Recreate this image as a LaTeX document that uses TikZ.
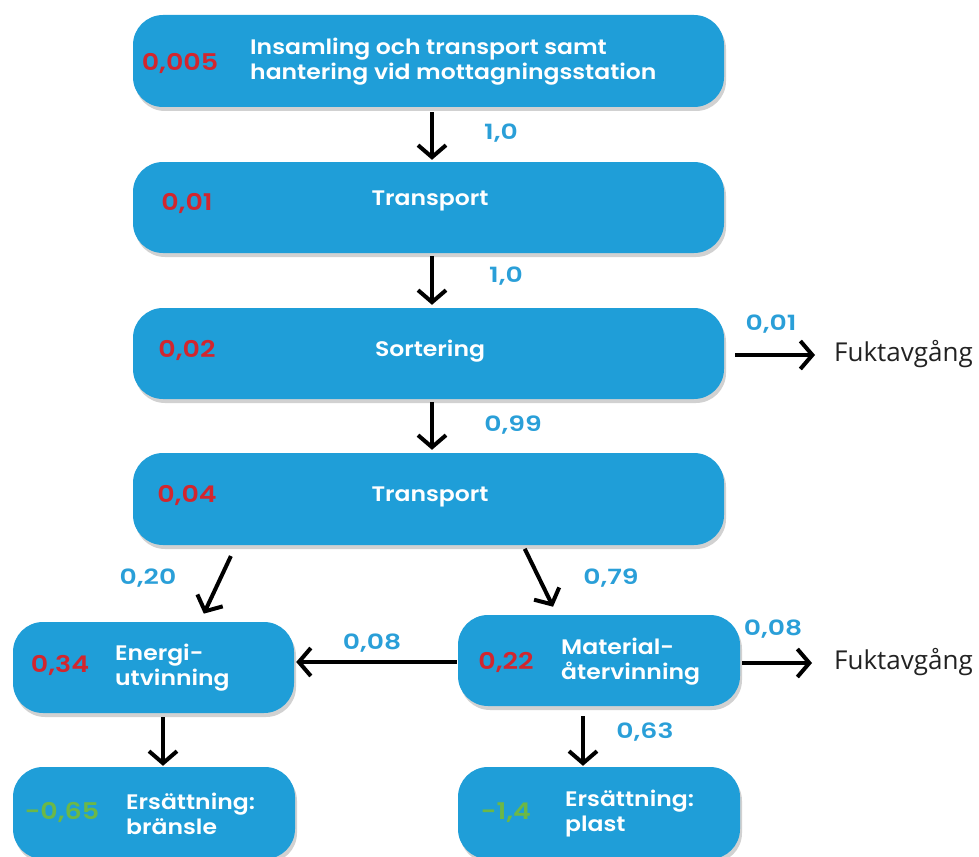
\documentclass[tikz,border=0pt]{standalone}
\usepackage{fontspec}
\newfontfamily\popbox{Poppins SemiBold}[FakeStretch=1.12]
\newfontfamily\popred{Poppins SemiBold}[FakeStretch=1.17, Numbers=Monospaced]
\newfontfamily\popflow{Poppins SemiBold}[FakeStretch=1.27, Numbers=Monospaced]
\newfontfamily\osans{Open Sans}
\usetikzlibrary{arrows.meta,shadows}
\definecolor{boxblue}{HTML}{1F9ED8}
\definecolor{numred}{HTML}{D2262E}
\definecolor{numgreen}{HTML}{6CB847}
\definecolor{lblblue}{HTML}{2A9FD8}
\definecolor{fukt}{HTML}{222222}
\tikzset{
  procbox/.style={rectangle, rounded corners=30pt, fill=boxblue, inner sep=0pt,
    drop shadow={shadow xshift=2pt, shadow yshift=-4pt, opacity=0.18, fill=black}},
  boxtxt/.style={text=white, font=\popbox\fontsize{21}{25}\selectfont, align=left, inner sep=0pt},
  rednum/.style={text=numred, font=\popred\fontsize{23}{24}\selectfont, inner sep=0pt},
  greennum/.style={text=numgreen, font=\popred\fontsize{23}{24}\selectfont, inner sep=0pt},
  flow/.style={text=lblblue, font=\popflow\fontsize{21}{22}\selectfont, inner sep=0pt},
  fukttxt/.style={text=fukt, font=\osans\fontsize{26}{28}\selectfont, inner sep=0pt, anchor=west},
  arr/.style={draw=black, line width=4pt, -{Straight Barb[length=12pt,width=28pt]}},
}
\begin{document}
\begin{tikzpicture}[x=1pt,y=-1pt]
\useasboundingbox (0,0) rectangle (979,856);
\clip (0,0) rectangle (979,856);
% boxes
\node[procbox, minimum width=591pt, minimum height=92pt] (top) at (428.5,61) {};
\node[procbox, minimum width=591pt, minimum height=91pt] (tr1) at (428.5,207.5) {};
\node[procbox, minimum width=591pt, minimum height=91pt] (so) at (428.5,353.5) {};
\node[procbox, minimum width=591pt, minimum height=92pt] (tr2) at (428.5,499) {};
\node[procbox, minimum width=281pt, minimum height=91pt] (en) at (153.5,667.5) {};
\node[procbox, minimum width=282pt, minimum height=91pt] (mat) at (599,660.5) {};
\node[procbox, minimum width=282pt, minimum height=92pt] (er1) at (154,813) {};
\node[procbox, minimum width=282pt, minimum height=92pt] (er2) at (599,813) {};
% numbers
\node[rednum] (n1) at (180,63) {0,005};
\node[rednum] (n2) at (187,203) {0,01};
\node[rednum] (n3) at (187,350) {0,02};
\node[rednum] (n4) at (187,495) {0,04};
\node[rednum] (n5) at (60,665) {0,34};
\node[rednum] (n6) at (506,662) {0,22};
\node[greennum] (n7) at (62,812) {-0,65};
\node[greennum] (n8) at (506,813) {-1,4};
% box texts
\node[boxtxt, anchor=west] (t1) at (250,62) {Insamling och transport samt\\hantering vid mottagningsstation};
\node[boxtxt] (t2) at (430,201) {Transport};
\node[boxtxt] (t3) at (430,351) {Sortering};
\node[boxtxt] (t4) at (430,497) {Transport};
\node[boxtxt, anchor=west] (t5) at (115,668) {Energi-\\utvinning};
\node[boxtxt, anchor=west] (t6) at (561,662) {Material-\\återvinning};
\node[boxtxt, anchor=west] (t7) at (126,814) {Ersättning:\\bränsle};
\node[boxtxt, anchor=west] (t8) at (565,814) {Ersättning:\\plast};
% side texts
\node[fukttxt] (f1) at (834,354) {Fuktavgång};
\node[fukttxt] (f2) at (834,662) {Fuktavgång};
% flow labels
\node[flow] (l1) at (501,133) {1,0};
\node[flow] (l2) at (506,276) {1,0};
\node[flow] (l3) at (513,425) {0,99};
\node[flow] (l4) at (771,324) {0,01};
\node[flow] (l5) at (148,578) {0,20};
\node[flow] (l6) at (611,578) {0,79};
\node[flow] (l7) at (372,643) {0,08};
\node[flow] (l8) at (773,629) {0,08};
\node[flow] (l9) at (645,732) {0,63};
% arrows
\draw[arr, shorten <=5pt, shorten >=2pt] ([xshift=3.5pt]top.south) -- ([xshift=3.5pt]tr1.north);
\draw[arr, shorten <=3pt, shorten >=3pt] ([xshift=3.5pt]tr1.south) -- ([xshift=3.5pt]so.north);
\draw[arr, shorten <=3pt, shorten >=3pt] ([xshift=3.5pt]so.south) -- ([xshift=3.5pt]tr2.north);
\draw[arr, shorten <=11pt, shorten >=19pt] ([yshift=-1.5pt]so.east) -- ([yshift=-1.5pt]so.east -| f1.west);
\draw[arr, shorten <=12pt, shorten >=9pt] ([xshift=-192.5pt]tr2.south) -- ([xshift=46.5pt]en.north);
\draw[arr, shorten <=4pt, shorten >=9pt] ([xshift=94.5pt]tr2.south) -- ([xshift=-42pt]mat.north);
\draw[arr, shorten <=1pt, shorten >=2pt] ([yshift=-1.5pt]mat.west) -- ([yshift=-1.5pt]mat.west -| en.east);
\draw[arr, shorten <=2pt, shorten >=22pt] ([yshift=-2.5pt]mat.east) -- ([yshift=-2.5pt]mat.east -| f2.west);
\draw[arr, shorten <=4pt, shorten >=1pt] ([xshift=9.5pt]en.south) -- ([xshift=9pt]er1.north);
\draw[arr, shorten <=10pt, shorten >=1pt] ([xshift=-16pt]mat.south) -- ([xshift=-16pt]er2.north);
\end{tikzpicture}
\end{document}
